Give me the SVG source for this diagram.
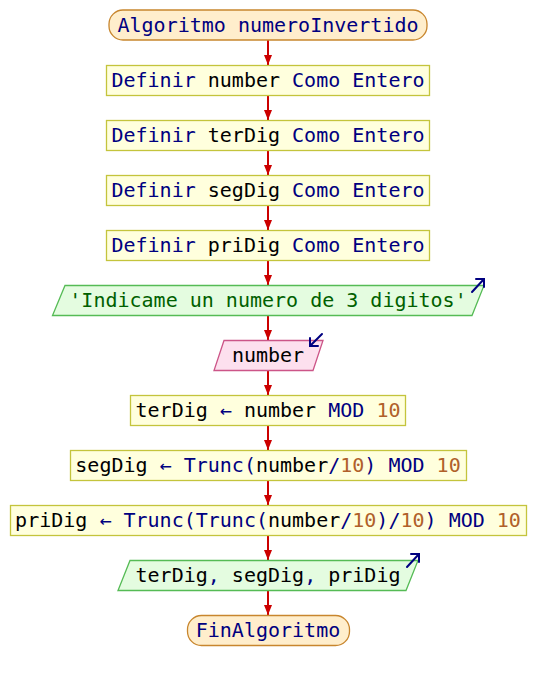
<svg xmlns="http://www.w3.org/2000/svg" width="536" height="680" viewBox="0 0 536 680">
  <defs>
    <marker id="arrow" markerUnits="userSpaceOnUse" markerWidth="10" markerHeight="8" refX="10" refY="4" orient="auto">
      <path d="M0,0 L10,4 L0,8 Z" fill="#cc0000"/>
    </marker>
    <style>
      text { font-family: "DejaVu Sans Mono", "Liberation Mono", monospace; font-size: 20px; text-anchor: middle; fill: #000; }
      .term { fill: #ffeecc; stroke: #c8862e; stroke-width: 1.3; }
      .proc { fill: #ffffdd; stroke: #c4c43c; stroke-width: 1.3; }
      .out { fill: #e4fce0; stroke: #55bb55; stroke-width: 1.3; }
      .in { fill: #fde0ee; stroke: #cc5588; stroke-width: 1.3; }
      .kw { fill: #000080; }
      .num { fill: #b0602a; }
      .str { fill: #006000; }
      .icon { fill: none; stroke: #000080; stroke-width: 2; stroke-linecap: round; }
      .conn line { stroke: #cc0000; stroke-width: 2; marker-end: url(#arrow); }
    </style>
  </defs>
  <rect width="536" height="680" fill="#ffffff"/>

  <g class="conn" id="connectors">
    <line x1="268" y1="40" x2="268" y2="65"/>
    <line x1="268" y1="95" x2="268" y2="120"/>
    <line x1="268" y1="150" x2="268" y2="175"/>
    <line x1="268" y1="205" x2="268" y2="230"/>
    <line x1="268" y1="260" x2="268" y2="285"/>
    <line x1="268" y1="315" x2="268" y2="340"/>
    <line x1="268" y1="370" x2="268" y2="395"/>
    <line x1="268" y1="425" x2="268" y2="450"/>
    <line x1="268" y1="480" x2="268" y2="505"/>
    <line x1="268" y1="535" x2="268" y2="560"/>
    <line x1="268" y1="590" x2="268" y2="615"/>
  </g>

  <g id="start">
    <rect class="term" x="109" y="10" width="318" height="30" rx="14" ry="14"/>
    <text x="268" y="32" class="kw">Algoritmo numeroInvertido</text>
  </g>

  <g id="def-number">
    <rect class="proc" x="106.5" y="65.5" width="323" height="30"/>
    <text x="268" y="87"><tspan class="kw">Definir</tspan> number <tspan class="kw">Como Entero</tspan></text>
  </g>

  <g id="def-terdig">
    <rect class="proc" x="106.5" y="120.5" width="323" height="30"/>
    <text x="268" y="142"><tspan class="kw">Definir</tspan> terDig <tspan class="kw">Como Entero</tspan></text>
  </g>

  <g id="def-segdig">
    <rect class="proc" x="106.5" y="175.5" width="323" height="30"/>
    <text x="268" y="197"><tspan class="kw">Definir</tspan> segDig <tspan class="kw">Como Entero</tspan></text>
  </g>

  <g id="def-pridig">
    <rect class="proc" x="106.5" y="230.5" width="323" height="30"/>
    <text x="268" y="252"><tspan class="kw">Definir</tspan> priDig <tspan class="kw">Como Entero</tspan></text>
  </g>

  <g id="prompt">
    <polygon class="out" points="65,285.5 484,285.5 472,315.5 52.5,315.5"/>
    <text x="268" y="307" class="str">'Indicame un numero de 3 digitos'</text>
    <path class="icon" d="M472,292 L484,279 M476,279 L484,279 L484,287"/>
  </g>

  <g id="read-number">
    <polygon class="in" points="224,340.5 323,340.5 313,370.5 214,370.5"/>
    <text x="268" y="362">number</text>
    <path class="icon" d="M322,334 L310,346 M310,338 L310,346 L318,346"/>
  </g>

  <g id="calc-terdig">
    <rect class="proc" x="130.5" y="395.5" width="275" height="30"/>
    <text x="268" y="417">terDig <tspan class="kw">←</tspan> number <tspan class="kw">MOD</tspan> <tspan class="num">10</tspan></text>
  </g>

  <g id="calc-segdig">
    <rect class="proc" x="70.5" y="450.5" width="396" height="30"/>
    <text x="268" y="472">segDig <tspan class="kw">← Trunc(</tspan>number<tspan class="kw">/</tspan><tspan class="num">10</tspan><tspan class="kw">) MOD</tspan> <tspan class="num">10</tspan></text>
  </g>

  <g id="calc-pridig">
    <rect class="proc" x="10.5" y="505.5" width="516" height="30"/>
    <text x="268" y="527">priDig <tspan class="kw">← Trunc(Trunc(</tspan>number<tspan class="kw">/</tspan><tspan class="num">10</tspan><tspan class="kw">)/</tspan><tspan class="num">10</tspan><tspan class="kw">) MOD</tspan> <tspan class="num">10</tspan></text>
  </g>

  <g id="show-digits">
    <polygon class="out" points="130,560.5 418,560.5 406,590.5 118,590.5"/>
    <text x="268" y="582">terDig<tspan class="kw">,</tspan> segDig<tspan class="kw">,</tspan> priDig</text>
    <path class="icon" d="M407,567 L419,554 M411,554 L419,554 L419,562"/>
  </g>

  <g id="end">
    <rect class="term" x="187.5" y="615.5" width="162" height="30" rx="14" ry="14"/>
    <text x="268" y="637" class="kw">FinAlgoritmo</text>
  </g>
</svg>
